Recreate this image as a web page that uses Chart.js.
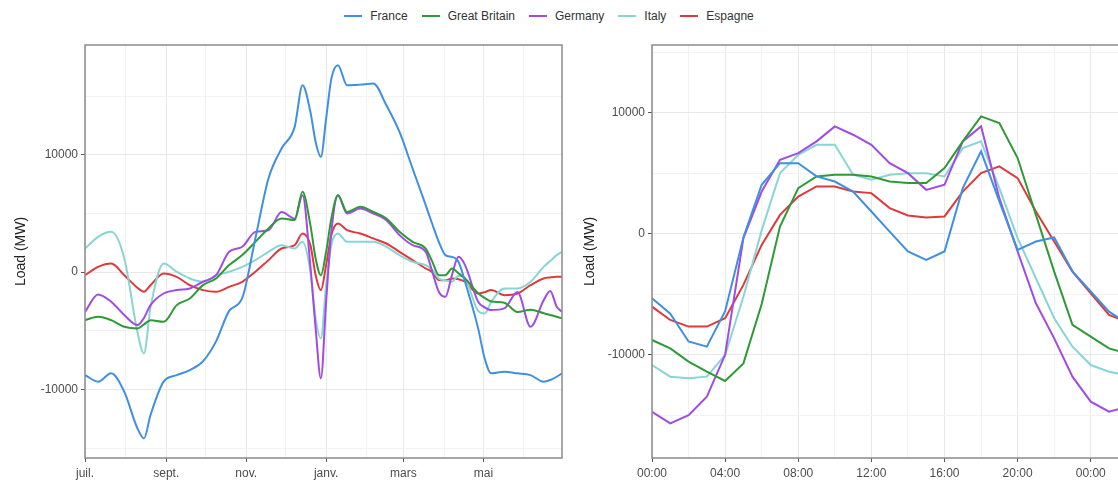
<!DOCTYPE html>
<html>
<head>
<meta charset="utf-8">
<script src="https://cdn.jsdelivr.net/npm/chart.js@4.4.1/dist/chart.umd.min.js"></script>
<style>
  html, body { margin: 0; padding: 0; background: #fff; overflow: hidden; width: 1118px; height: 481px; }
  #legend { position: absolute; top: 9px; left: 0; width: 1098px; display: flex; justify-content: center;
            font: 12px 'Liberation Sans', Arial, sans-serif; color: #333; }
  .item { display: flex; align-items: center; margin: 0 7px; }
  .swatch { width: 18px; height: 2px; margin-right: 8px; }
  #left { position: absolute; left: 0; top: 30px; }
  #right { position: absolute; left: 570px; top: 30px; }
</style>
</head>
<body>
<div id="legend"></div>
<canvas id="left" width="570" height="451"></canvas>
<canvas id="right" width="560" height="451"></canvas>
<script>
const countries = ['France', 'Great Britain', 'Germany', 'Italy', 'Espagne']
const colors = ['#3f8fe3', '#2e9a36', '#a04be6', '#88d5d5', '#de3a3c']

// yearly profile, days after 1 July
const days = [0, 10, 20, 30, 40, 45, 50, 60, 70, 80, 90, 100, 110, 120, 130, 140, 150, 160, 166, 172, 176, 180, 184, 188,
  193, 200, 210, 220, 230, 240, 250, 260, 265, 270, 275, 280, 285, 290, 300, 305, 310, 320, 330, 340, 350, 355, 360, 364]
const yearFrance = [-8770, -9330, -8620, -10200, -13300, -14160, -12170, -9330, -8770, -8340, -7600, -5900, -3300, -2200, 2870, 7970,
  10530, 12370, 15920, 13650, 11090, 9820, 13080, 16480, 17620, 15920, 15970, 16060, 14210, 11940, 8820, 5700,
  4100, 2580, 1450, 1300, 880, -820, -4790, -7350, -8620, -8480, -8620, -8770, -9330, -9190, -8910, -8620]
const yearBritain = [-4090, -3800, -4090, -4650, -4790, -4450, -4090, -4230, -2810, -2240, -1110, -540, 600, 1450, 2580, 3720,
  4570, 4430, 6840, 4000, 1160, -260, 1730, 4570, 6550, 5130, 5560, 5130, 4570, 3430, 2580, 2010,
  900, -260, -260, 310, -100, -540, -1800, -2200, -2500, -2600, -3400, -3200, -3500, -3650, -3800, -3940]
const yearGermany = [-3380, -1900, -2520, -3660, -4510, -3900, -2810, -1820, -1530, -1390, -820, -260, 1730, 2160, 3430, 3570,
  5130, 4570, 6550, 500, -4800, -9050, -2520, 3430, 6550, 4990, 5420, 4990, 4430, 3150, 2300, 1730,
  30, -1670, -2100, -260, 1300, 600, -2520, -3000, -3230, -3090, -1700, -4650, -2400, -1600, -2950, -3380]
const yearItaly = [2010, 3010, 3430, 1160, -5080, -6920, -3000, 740, 30, -540, -820, -260, 30, 450, 1020, 1730,
  2300, 2010, 2580, 30, -3940, -5650, -1110, 2300, 3290, 2580, 2580, 2580, 2160, 1450, 880, 600,
  200, -540, -700, -820, -300, -540, -3300, -3520, -2520, -1390, -1390, -820, 450, 950, 1450, 1730]
const yearSpain = [-260, 450, 740, -260, -1330, -1670, -1110, -110, -400, -1110, -1530, -1670, -1250, -820, 30, 1020,
  2010, 2300, 3290, 2300, -260, -1530, 600, 3150, 4140, 3570, 3290, 2870, 2440, 1730, 1020, 310,
  0, -680, -700, -540, -600, -820, -1820, -1700, -1530, -1960, -1820, -1110, -540, -450, -400, -400]

// daily profile, hours
const hours = [0, 1, 2, 3, 4, 5, 6, 7, 8, 9, 10, 11, 12, 13, 14, 15, 16, 17, 18, 19, 20, 21, 22, 23, 24, 25, 26]
const dayFrance = [-5330, -6600, -8900, -9330, -6400, -300, 4060, 5850, 5850, 4750, 4330, 3500, 1850, 190, -1460, -2150,
  -1460, 3780, 6820, 2680, -1320, -630, -300, -3100, -4770, -6430, -7400]
const dayBritain = [-8780, -9470, -10570, -11400, -12170, -10710, -5800, 600, 3780, 4750, 4890, 4890, 4750, 4330, 4200, 4200,
  5440, 7650, 9720, 9160, 6270, 1570, -3120, -7530, -8500, -9470, -9900]
const dayGermany = [-14710, -15680, -14990, -13470, -10000, -360, 3500, 6130, 6680, 7650, 8890, 8200, 7370, 5850, 5020, 3640,
  4060, 7650, 8890, 2950, -1460, -5740, -8640, -11810, -13880, -14710, -14300]
const dayItaly = [-10850, -11810, -11950, -11810, -10020, -5200, 300, 5020, 6540, 7370, 7370, 4890, 4470, 4890, 5020, 5020,
  4750, 7090, 7650, 3780, -360, -3670, -6980, -9330, -10850, -11400, -11700]
const daySpain = [-6020, -7120, -7670, -7670, -6980, -4220, -910, 1570, 3090, 3920, 3920, 3500, 3370, 2130, 1520, 1350,
  1440, 3500, 5020, 5580, 4610, 1850, -630, -3120, -4910, -6700, -7300]

const monthStarts = [0, 31, 62, 92, 123, 153, 184, 215, 243, 274, 304, 335]
const monthLabels = ['juil.', '', 'sept.', '', 'nov.', '', 'janv.', '', 'mars', '', 'mai', '']
const hourTicks = [0, 2, 4, 6, 8, 10, 12, 14, 16, 18, 20, 22, 24]
const hourLabels = ['00:00', '', '04:00', '', '08:00', '', '12:00', '', '16:00', '', '20:00', '', '00:00']
const yTicks = [-15000, -10000, -5000, 0, 5000, 10000, 15000]
const yLabels = ['', '-10000', '', '0', '', '10000', '']

const yearSeries = [yearFrance, yearBritain, yearGermany, yearItaly, yearSpain]
const daySeries = [dayFrance, dayBritain, dayGermany, dayItaly, daySpain]

const font = { family: "'Liberation Sans', Arial, sans-serif", size: 12 }
const textColor = '#4d4d4d'

const legend = document.getElementById('legend')
countries.forEach((name, i) => {
  const item = document.createElement('div')
  item.className = 'item'
  item.innerHTML = `<span class="swatch" style="background:${colors[i]}"></span><span>${name}</span>`
  legend.appendChild(item)
})

const frame = {
  id: 'frame',
  afterDatasetsDraw(chart) {
    const { ctx, chartArea: a } = chart
    ctx.save()
    ctx.strokeStyle = '#8a8a8a'
    ctx.lineWidth = 1.5
    ctx.strokeRect(a.left, a.top, a.right - a.left, a.bottom - a.top)
    ctx.restore()
  }
}

const gridStyle = (labels) => ({
  color: ctx => labels[ctx.index] ? '#e8e8e8' : '#f2f2f2',
  tickColor: ctx => labels[ctx.index] ? '#555' : 'rgba(0,0,0,0)',
  tickLength: 4,
  lineWidth: 1
})

function yScale(min, max, width, titlePad) {
  return {
    type: 'linear', min, max,
    afterBuildTicks: s => { s.ticks = yTicks.map(v => ({ value: v })) },
    afterFit: s => { s.width = width },
    ticks: { callback: (v, i) => yLabels[i], color: textColor, font, padding: 3, autoSkip: false },
    grid: gridStyle(yLabels),
    border: { display: false },
    title: { display: true, text: 'Load (MW)', color: '#222', font: { ...font, size: 14 }, padding: { top: titlePad, bottom: 0 } }
  }
}

function xScale(min, max, ticks, labels) {
  return {
    type: 'linear', min, max,
    afterBuildTicks: s => { s.ticks = ticks.map(v => ({ value: v })) },
    afterFit: s => { s.height = 23 },
    ticks: { callback: (v, i) => labels[i], color: textColor, font, padding: 4, autoSkip: false, maxRotation: 0 },
    grid: gridStyle(labels),
    border: { display: false }
  }
}

function makeChart(id, xs, series, opts) {
  return new Chart(document.getElementById(id), {
    type: 'line',
    data: {
      datasets: series.map((vals, i) => ({
        label: countries[i],
        data: xs.map((x, j) => ({ x, y: vals[j] })),
        borderColor: colors[i],
        borderWidth: 2,
        pointRadius: 0,
        fill: false,
        cubicInterpolationMode: opts.smooth ? 'monotone' : 'default',
        tension: opts.smooth ? 0.4 : 0
      }))
    },
    options: {
      responsive: false,
      animation: false,
      layout: { padding: opts.padding },
      plugins: { legend: { display: false }, tooltip: { enabled: false } },
      scales: { x: opts.x, y: opts.y }
    },
    plugins: [frame]
  })
}

makeChart('left', days, yearSeries, {
  smooth: true,
  padding: { top: 15, right: 8, left: 0, bottom: 0 },
  x: xScale(0, 364, monthStarts, monthLabels),
  y: yScale(-15830, 19345, 85, 13)
})

makeChart('right', hours, daySeries, {
  smooth: false,
  padding: { top: 15, right: 10, left: 0, bottom: 0 },
  x: xScale(0, 25.6, hourTicks, hourLabels),
  y: yScale(-18537, 15620, 82, 12)
})
</script>
</body>
</html>
